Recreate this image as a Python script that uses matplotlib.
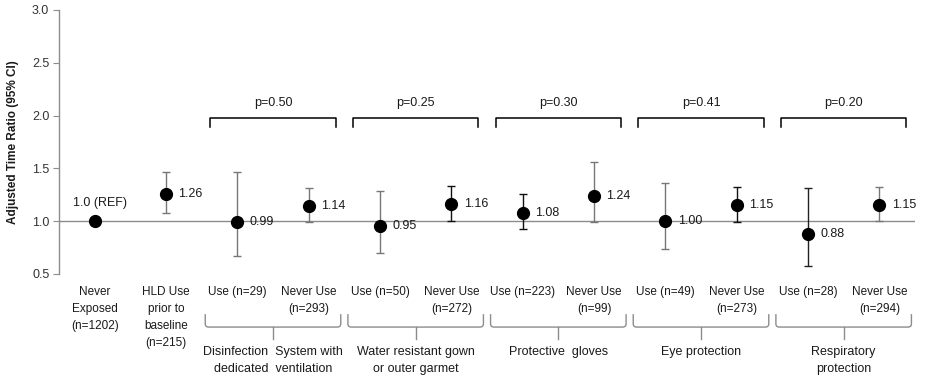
import matplotlib
matplotlib.use('Agg')
import matplotlib.pyplot as plt
import matplotlib.transforms as mtransforms
from matplotlib.path import Path
from matplotlib.patches import PathPatch

plt.rcParams['font.family'] = ['Liberation Sans', 'DejaVu Sans']

# ---------------- data ----------------
categories = ['Never\nExposed\n(n=1202)', 'HLD Use\nprior to\nbaseline\n(n=215)',
              'Use (n=29)', 'Never Use\n(n=293)',
              'Use (n=50)', 'Never Use\n(n=272)',
              'Use (n=223)', 'Never Use\n(n=99)',
              'Use (n=49)', 'Never Use\n(n=273)',
              'Use (n=28)', 'Never Use\n(n=294)']
ratios = [1.00, 1.26, 0.99, 1.14, 0.95, 1.16, 1.08, 1.24, 1.00, 1.15, 0.88, 1.15]
ci_low = [None, 1.08, 0.67, 0.99, 0.70, 1.00, 0.93, 0.99, 0.74, 0.99, 0.58, 1.00]
ci_high = [None, 1.47, 1.47, 1.31, 1.29, 1.33, 1.26, 1.56, 1.36, 1.32, 1.31, 1.32]
value_labels = ['1.0 (REF)', '1.26', '0.99', '1.14', '0.95', '1.16',
                '1.08', '1.24', '1.00', '1.15', '0.88', '1.15']
groups = ['Disinfection  System with\ndedicated  ventilation',
          'Water resistant gown\nor outer garmet',
          'Protective  gloves',
          'Eye protection',
          'Respiratory\nprotection']
p_values = ['p=0.50', 'p=0.25', 'p=0.30', 'p=0.41', 'p=0.20']
yticks = [0.5, 1.0, 1.5, 2.0, 2.5, 3.0]

# ---------------- style ----------------
err_colors = ['#777777', '#777777', '#777777', '#777777', '#777777', '#111111',
              '#111111', '#777777', '#777777', '#111111', '#222222', '#777777']
grey = '#8c8c8c'
txt = '#1a1a1a'

fig = plt.figure(figsize=(9.25, 3.81), dpi=100)
ax = fig.add_axes([59/925, 1-274/381, (915-59)/925, (274-10)/381])

ax.set_xlim(-0.5, len(categories) - 0.5)
ax.set_ylim(0.5, 3.0)
ax.set_yticks(yticks)
ax.set_yticklabels([f'{t:.1f}' for t in yticks])
ax.tick_params(axis='y', direction='out', length=4, color=grey, labelsize=9,
               labelcolor='#333333', pad=3)
ax.set_xticks([])
for s in ['top', 'right', 'bottom']:
    ax.spines[s].set_visible(False)
ax.spines['left'].set_color(grey)
ax.spines['left'].set_linewidth(1)
ax.axhline(1.0, color=grey, lw=1, zorder=1)

ax.set_ylabel('Adjusted Time Ratio (95% CI)', fontsize=8.5, fontweight='bold',
              color=txt, labelpad=9)

# points and error bars
for i, r in enumerate(ratios):
    if ci_low[i] is not None:
        ax.errorbar([i], [r], yerr=[[r - ci_low[i]], [ci_high[i] - r]], fmt='none',
                    ecolor=err_colors[i], elinewidth=1, capsize=2.7, capthick=1, zorder=2)
    ax.plot([i], [r], 'o', color='black', ms=8.5, zorder=3)
    if i == 0:
        ax.annotate(value_labels[i], (i, r), xytext=(4, 13), textcoords='offset points',
                    ha='center', va='center', fontsize=9, color=txt)
    else:
        ax.annotate(value_labels[i], (i, r), xytext=(9, 0), textcoords='offset points',
                    ha='left', va='center', fontsize=9, color=txt)

# top brackets with p-values
for k, p in enumerate(p_values):
    c = 2.5 + 2 * k
    x0, x1 = c - 0.88, c + 0.88
    ax.plot([x0, x0, x1, x1], [1.89, 1.98, 1.98, 1.89], color='black', lw=1.1,
            solid_joinstyle='round', zorder=2)
    ax.text(c, 2.12, p, ha='center', va='center', fontsize=9, color=txt)

# category labels under axis
trans = mtransforms.blended_transform_factory(ax.transData, ax.transAxes)
for i, lab in enumerate(categories):
    ax.text(i, -0.045, lab, transform=trans, ha='center', va='top', fontsize=8.5,
            color=txt, linespacing=1.55, multialignment='center', clip_on=False)

# bottom braces and group labels
yt, yb, ys = -0.152, -0.201, -0.246
rx, ry = 0.05, 0.012
for k, g in enumerate(groups):
    c = 2.5 + 2 * k
    x0, x1 = c - 0.95, c + 0.95
    verts = [(x0, yt), (x0, yb + ry), (x0, yb), (x0 + rx, yb),
             (x1 - rx, yb), (x1, yb), (x1, yb + ry), (x1, yt)]
    codes = [Path.MOVETO, Path.LINETO, Path.CURVE3, Path.CURVE3,
             Path.LINETO, Path.CURVE3, Path.CURVE3, Path.LINETO]
    ax.add_patch(PathPatch(Path(verts, codes), transform=trans, fill=False,
                           edgecolor=grey, lw=1, clip_on=False))
    ax.plot([c, c], [yb, ys], transform=trans, color=grey, lw=1, clip_on=False)
    ax.text(c, -0.272, g, transform=trans, ha='center', va='top', fontsize=9,
            color=txt, linespacing=1.6, multialignment='center', clip_on=False)

fig.savefig('out.png', dpi=100)
